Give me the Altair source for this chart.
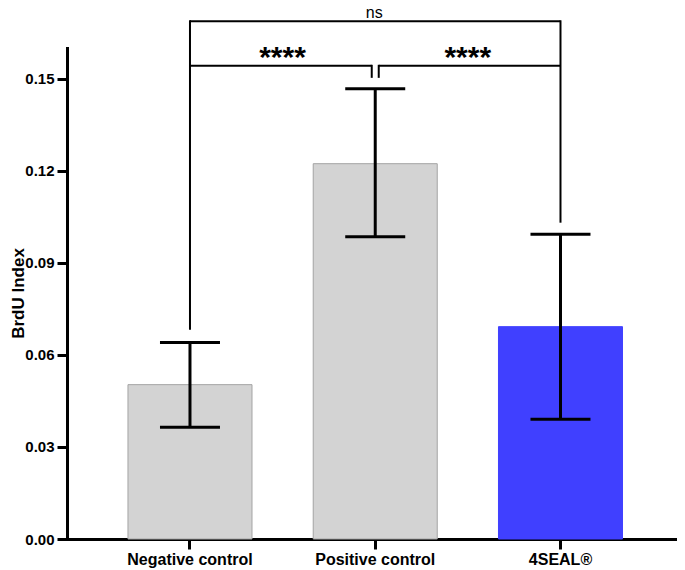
import altair as alt
import pandas as pd

# ---- data ----
categories = ["Negative control", "Positive control", "4SEAL®"]
means = [0.0503, 0.1223, 0.0692]
err_low = [0.0364, 0.0985, 0.0390]
err_high = [0.0640, 0.1467, 0.0993]
bar_fill = ["#D3D3D3", "#D3D3D3", "#4040FF"]
bar_edge = ["#A3A3A3", "#A3A3A3", "#4040FF"]
y_ticks = [0.0, 0.03, 0.06, 0.09, 0.12, 0.15]

# significance brackets (value units)
# horizontal segments: from category, to category, y, start offset px, end offset px
h_from = ["Negative control", "Negative control", "Positive control"]
h_to = ["4SEAL®", "Positive control", "4SEAL®"]
h_y = [0.1687, 0.1542, 0.1542]
h_off1 = [0, 0, 3.5]
h_off2 = [0, -3.5, 0]
# vertical legs: category, top, bottom, offset px
v_cat = ["Negative control", "4SEAL®", "Positive control", "Positive control"]
v_top = [0.1687, 0.1687, 0.1542, 0.1542]
v_bot = [0.0685, 0.1034, 0.1506, 0.1506]
v_off = [0, 0, -3.5, 3.5]
# labels
lab_text = ["ns", "****", "****"]
lab_cat = ["Positive control", "Negative control", "Positive control"]
lab_y = [0.1699, 0.1539, 0.1539]
lab_dx = [-1, 92.5, 92.5]
lab_size = [16, 30, 30]
lab_weight = ["normal", "bold", "bold"]

FONT = "Liberation Sans"

df = pd.DataFrame({
    "cat": categories, "mean": means, "lo": err_low, "hi": err_high,
    "fill": bar_fill, "edge": bar_edge,
})

xscale = alt.Scale(domain=categories, paddingInner=0.3306, paddingOuter=0.3117, align=0.528)
yscale = alt.Scale(domain=[0, 0.16], nice=False, zero=True)

xaxis = alt.Axis(title=None, labelAngle=0, labelFont=FONT, labelFontSize=16,
                 labelFontWeight="bold", labelColor="black", labelPadding=2,
                 tickColor="black", tickWidth=3, tickSize=10,
                 domainColor="black", domainWidth=3, domainCap="square")
yaxis = alt.Axis(title="BrdU Index", values=y_ticks, format=".2f", grid=False,
                 labelFont=FONT, labelFontSize=15, labelFontWeight="bold",
                 labelColor="black", labelPadding=3,
                 tickColor="black", tickWidth=3, tickSize=10,
                 domainColor="black", domainWidth=3, domainCap="square",
                 titleFont=FONT, titleFontSize=17, titleFontWeight="bold",
                 titleColor="black", titleAngle=270, titleX=-49, titleY=245,
                 titleAlign="center", titleBaseline="middle")

def X(field):
    return alt.X(f"{field}:N", scale=xscale, axis=xaxis, sort=categories)

def Y(field):
    return alt.Y(f"{field}:Q", scale=yscale, axis=yaxis)

base = alt.Chart(df)

bars = base.mark_bar(strokeWidth=1).encode(
    x=X("cat"), y=Y("mean"),
    fill=alt.Fill("fill:N", scale=None),
    stroke=alt.Stroke("edge:N", scale=None),
)
stems = base.mark_rule(color="black", strokeWidth=3).encode(
    x=X("cat"), y=Y("lo"), y2="hi:Q")
cap_lo = base.mark_tick(color="black", thickness=3, size=60, opacity=1).encode(
    x=X("cat"), y=Y("lo"))
cap_hi = base.mark_tick(color="black", thickness=3, size=60, opacity=1).encode(
    x=X("cat"), y=Y("hi"))

layers = [bars, stems, cap_lo, cap_hi]

for a, b, yv, o1, o2 in zip(h_from, h_to, h_y, h_off1, h_off2):
    d = pd.DataFrame({"a": [a], "b": [b], "y": [yv]})
    layers.append(alt.Chart(d).mark_rule(color="black", strokeWidth=2,
                                         xOffset=o1, x2Offset=o2, clip=False)
                  .encode(x=X("a"), x2="b:N", y=Y("y")))

for c, t, bt, o in zip(v_cat, v_top, v_bot, v_off):
    d = pd.DataFrame({"c": [c], "t": [t], "b": [bt]})
    layers.append(alt.Chart(d).mark_rule(color="black", strokeWidth=2,
                                         xOffset=o, strokeCap="square", clip=False)
                  .encode(x=X("c"), y=Y("t"), y2="b:Q"))

for txt, c, yv, dx, fs, fw in zip(lab_text, lab_cat, lab_y, lab_dx, lab_size, lab_weight):
    d = pd.DataFrame({"c": [c], "y": [yv], "t": [txt]})
    layers.append(alt.Chart(d).mark_text(font=FONT, fontSize=fs, fontWeight=fw,
                                         color="black", dx=dx, baseline="alphabetic",
                                         align="center", clip=False)
                  .encode(x=X("c"), y=Y("y"), text="t:N"))

chart = alt.layer(*layers).properties(
    width=610, height=491,
    autosize=alt.AutoSizeParams(type="none"),
    padding={"left": 59, "top": 40, "right": 0, "bottom": 30},
    background="white",
).configure_view(stroke=None)

chart.save("out.html", embed_options={"renderer": "svg", "actions": False})
